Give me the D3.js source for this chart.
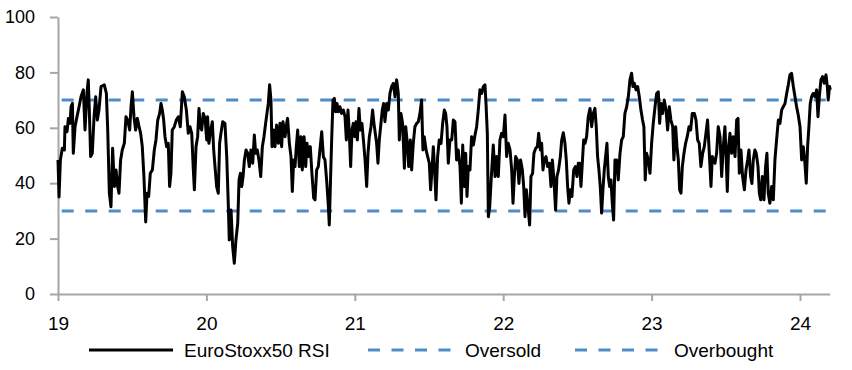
<!DOCTYPE html>
<html><head><meta charset="utf-8">
<script src="https://cdn.jsdelivr.net/npm/d3@7"></script>
<style>
html,body{margin:0;padding:0;background:#fff;}
svg{display:block;font-family:"Liberation Sans",Arial,sans-serif;}
</style></head>
<body>
<svg id="chart" width="852" height="370"></svg>
<script>
// ---- data (decimal year, 19 = 2019) ----
const dates = [
19.000,19.007,19.016,19.029,19.043,19.047,19.061,19.070,19.081,19.088,19.097,19.103,19.115,19.128,19.142,19.155,19.171,19.182,19.195,19.204,
19.211,19.220,19.231,19.243,19.254,19.265,19.276,19.290,19.312,19.326,19.335,19.346,19.357,19.368,19.380,19.391,19.402,19.411,19.422,19.433,
19.447,19.458,19.469,19.483,19.492,19.501,19.512,19.523,19.535,19.546,19.557,19.568,19.579,19.591,19.600,19.611,19.622,19.636,19.649,19.660,
19.672,19.685,19.694,19.703,19.712,19.721,19.732,19.743,19.752,19.761,19.770,19.784,19.797,19.811,19.824,19.838,19.851,19.865,19.878,
19.889,19.901,19.912,19.919,19.930,19.941,19.950,19.959,19.968,19.979,19.991,20.002,20.008,20.017,20.029,20.040,20.049,20.058,20.069,20.080,
20.089,20.098,20.110,20.125,20.137,20.148,20.154,20.166,20.177,20.188,20.199,20.211,20.220,20.229,20.238,20.247,20.256,20.267,20.278,20.289,
20.300,20.312,20.323,20.332,20.343,20.354,20.366,20.377,20.388,20.399,20.408,20.417,20.426,20.435,20.442,20.453,20.462,20.473,20.485,20.496,
20.507,20.516,20.530,20.541,20.547,20.559,20.570,20.579,20.588,20.597,20.606,20.615,20.626,20.637,20.646,20.658,20.669,20.678,20.689,20.700,
20.711,20.723,20.732,20.743,20.754,
20.765,20.777,20.788,20.799,20.810,20.822,20.828,20.837,20.844,20.853,20.862,20.871,20.880,20.889,20.900,20.911,20.923,20.934,20.943,20.954,
20.963,20.972,20.981,20.990,20.999,21.008,21.017,21.028,21.037,21.048,21.060,21.069,21.080,21.089,21.098,21.109,21.120,21.129,21.138,21.147,
21.156,21.165,21.174,21.185,21.194,21.203,21.215,21.226,21.237,21.248,21.260,21.271,21.282,21.293,21.300,21.311,21.322,21.334,21.343,21.354,
21.363,21.374,21.383,21.394,21.405,21.417,21.428,21.439,21.450,21.459,21.468,21.480,21.491,21.502,21.511,21.520,21.529,21.538,21.547,21.558,
21.569,21.581,21.592,21.603,21.612,21.621,21.630,
21.641,21.653,21.664,21.675,21.686,21.697,21.709,21.718,21.727,21.738,21.747,21.756,21.765,21.776,21.787,21.799,21.810,21.821,21.832,21.843,
21.855,21.866,21.877,21.884,21.893,21.900,21.909,21.920,21.933,21.945,21.956,21.967,21.978,21.989,22.001,22.012,22.023,22.034,22.046,22.057,
22.066,22.075,22.084,22.095,22.106,22.117,22.129,22.138,22.147,22.156,22.167,22.178,22.187,22.198,22.207,22.219,22.230,22.239,22.250,22.259,
22.268,22.277,22.288,22.299,22.311,22.322,22.331,22.342,22.353,22.362,22.373,22.385,22.394,22.405,22.416,22.425,22.434,22.443,22.452,22.463,
22.475,22.486,22.497,22.506,
22.515,22.524,22.533,22.542,22.551,22.562,22.573,22.585,22.596,22.607,22.618,22.627,22.636,22.645,22.654,22.663,22.672,22.681,22.690,22.699,
22.708,22.717,22.726,22.735,22.744,22.753,22.764,22.775,22.787,22.798,22.809,22.820,22.832,22.843,22.854,22.865,22.874,22.883,22.895,22.906,
22.917,22.928,22.939,22.948,22.957,22.966,22.978,22.989,23.000,23.011,23.023,23.034,23.045,23.054,23.063,23.074,23.085,23.097,23.108,23.119,
23.130,23.142,23.150,23.162,23.171,23.180,23.189,23.198,23.207,23.218,23.229,23.240,23.252,23.263,23.274,23.288,23.299,23.310,23.321,23.332,
23.344,23.355,23.366,23.377,
23.391,23.400,23.409,23.418,23.427,23.438,23.449,23.461,23.472,23.483,23.494,23.503,23.510,23.519,23.528,23.539,23.550,23.562,23.573,23.582,
23.591,23.602,23.613,23.625,23.636,23.647,23.656,23.667,23.676,23.685,23.696,23.705,23.717,23.726,23.735,23.746,23.757,23.768,23.777,23.786,
23.797,23.809,23.820,23.831,23.842,23.854,23.865,23.876,23.887,23.899,23.910,23.921,23.932,23.943,23.955,23.966,23.977,23.988,24.000,24.011,
24.022,24.033,24.042,24.051,24.060,24.069,24.078,24.089,24.101,24.112,24.121,24.130,24.141,24.152,24.163,24.175,24.184,24.190,24.199,24.204
];
const rsi = [
48.4,35,48.4,52.6,52,60.4,58.6,63.4,61.6,67.6,68.8,50.8,60.4,64,67.6,71.2,73.7,59.2,72.4,77.3,
66.4,49.6,50.8,64,71.2,62.8,66.4,74.9,75.5,72.4,59.2,36.4,31.5,52.6,38.8,44.8,38.8,36.4,48.4,52,
54.4,64,62.8,59.2,67.6,73,64,59.2,63.4,60.4,58,53.2,42.4,26,36.4,35.2,43.6,44.8,52,55.6,
62.8,65.2,68.8,66.4,62.8,56.8,53.2,54.4,38.8,43.6,59.2,60.4,62.8,64,60.4,73,71.2,66.4,58,
60.4,58,44.8,37.6,53.2,56.8,67,60.4,59.2,65.2,63.4,55.6,64,54.4,59.2,62.2,52,46,38.8,36.4,
54.4,58,62.2,61.6,49.6,31.5,19.5,30.3,17.1,11.1,19.5,25.5,41.2,43.6,38.8,42.4,48.4,52,50.8,46,
52,47.2,57.4,50.8,52,48.4,42.4,53.2,56.8,61.6,65.2,68.8,75.5,70,53.2,59.2,53.2,61,54.4,61.6,
53.2,62.2,56.8,61.6,63.4,54.4,49.6,37,48.4,46,53.2,59.2,46,56.8,44.8,56.8,46,54.4,49.6,53.2,
43.6,34.6,34,44.8,46,
52,58.6,49.6,48.4,41.2,31.5,24.9,42.4,55.6,70,70.6,65.8,68.8,65.8,67.6,65.2,66.4,64,55.6,66.4,
58,46,59.2,61.6,56.8,62.2,55.6,67,59.2,61.6,54.4,48.4,38.8,50.8,56.8,60.4,66.4,61.6,58,54.4,
47.2,55.6,60.4,66.4,68.8,62.2,68.8,66.4,72.4,74.9,76.1,71.2,77.3,72.4,55.6,65.2,61.6,45.4,60.4,54.4,
46,55.6,44.8,54.4,60.4,61.6,62.2,65.2,70,52,56.8,52,49.6,47.2,37.6,44.8,53.2,44.8,34,49.6,
55.6,54.4,61.6,66.4,65.2,60.4,47.2,
55.6,55.6,62.8,62.2,48.4,52,46,32.8,53.8,38.8,50.8,35.2,46,44.8,56.8,53.8,57.4,60.4,66.4,73.7,
72.4,74.9,75.5,68.8,58,27.9,31.5,42.4,53.8,42.4,49.6,42.4,55.6,58,56.8,64.6,49.6,54.4,52,44.8,
32.8,42.4,49.6,48.4,39.9,48.4,44.8,38.8,27.9,37.6,31.5,24.9,42.4,43.6,50.8,52.6,53.2,58,52,54.4,
44.8,48.4,49.6,46,47.2,38.8,48.4,41.2,30.3,42.4,44.8,49.6,55.6,58.2,54.4,48.4,38.8,32.8,37.6,35.2,
44.8,46,42.4,47.2,
47.2,38.8,47.2,55.6,54.4,56.8,64,67,60.4,65.2,67,60.4,49.6,44.8,38.8,29.2,37.6,44.8,49.6,54.4,
42.4,38.8,41.2,32.8,26.7,48.4,48.4,41.2,50.8,55.6,56.8,65.2,67.6,71.2,77.3,79.7,74.9,76.1,73.7,74.9,
71.2,66.4,62.8,60.4,41.2,50.8,48.4,43.6,54.4,61.6,67.6,72.4,73,61.6,68.8,65.2,70,66.4,59.2,67.6,
62.8,60.4,48.4,60.4,53.2,48.4,37.6,36.4,46,50.8,54.4,56.8,60.4,59.2,65.2,65.2,62.8,55.6,54.4,46,
50.8,53.2,58,62.8,
48.4,38.8,49.6,48.4,47.2,50.8,60.4,56.8,42.4,53.2,60.4,48.4,37,53.2,58,50.8,56.8,49.6,62.8,63.4,
43.6,52,42.4,37.6,44.8,48.4,52,42.4,39.9,48.4,52,50.8,46,36.4,34,42.4,34,46,50.8,36.4,
32.8,38.8,34,48.4,55.6,62.8,61.6,66.4,67.6,68.8,72.4,75.5,79.1,79.7,74.9,71.2,67.6,64.6,60.4,48.4,
53.2,47.2,40,53.2,60.4,68.8,71.2,72.4,71.2,73.7,64,71.2,77.3,78.5,76.1,79.1,74.9,70,74.9,73.7
];
const oversoldLevel = 30;
const overboughtLevel = 70;
const xDomain = [19, 24.2];
const xTicks = [19, 20, 21, 22, 23, 24];
const yTicks = [0, 20, 40, 60, 80, 100];
const legendLabels = ["EuroStoxx50 RSI", "Oversold", "Overbought"];

// ---- drawing ----
const svg = d3.select("#chart");
const axisColor = "#a6a6a6";
const blue = "#4f8bc6";
const x = d3.scaleLinear().domain(xDomain).range([58, 829.7]);
const y = d3.scaleLinear().domain([0, 100]).range([294, 17]);

// axes
const gy = svg.append("g").attr("transform", "translate(58,0)")
  .call(d3.axisLeft(y).tickValues(yTicks).tickSize(8).tickPadding(15).tickSizeOuter(0));
const gx = svg.append("g").attr("transform", "translate(0,294)")
  .call(d3.axisBottom(x).tickValues(xTicks).tickFormat(d3.format("d")).tickSize(7).tickPadding(16).tickSizeOuter(0));
[gy, gx].forEach(g => {
  g.selectAll("path,line").attr("stroke", axisColor).attr("stroke-width", 2);
  g.selectAll("text").attr("fill", "#000").style("font-family", '"Liberation Sans", Arial, sans-serif');
});
gy.selectAll("text").style("font-size", "18px");
gx.selectAll("text").style("font-size", "19px");

// reference lines
const dash = "12,11.5";
[oversoldLevel, overboughtLevel].forEach(level => {
  svg.append("line")
    .attr("x1", x(xDomain[0])).attr("x2", x(xDomain[1]))
    .attr("y1", y(level)).attr("y2", y(level))
    .attr("stroke", blue).attr("stroke-width", 3)
    .attr("stroke-dasharray", dash).attr("stroke-dashoffset", 19.8);
});

// RSI line
const pts = d3.zip(dates, rsi);
svg.append("path").datum(pts)
  .attr("fill", "none").attr("stroke", "#000").attr("stroke-width", 3)
  .attr("stroke-linejoin", "round")
  .attr("d", d3.line().x(d => x(d[0])).y(d => y(d[1])));

// legend
const legendY = 350;
const items = [
  {label: legendLabels[0], x0: 89, color: "#000", dash: null, tx: 184},
  {label: legendLabels[1], x0: 368, color: blue, dash: dash, tx: 465},
  {label: legendLabels[2], x0: 575, color: blue, dash: dash, tx: 674}
];
items.forEach(it => {
  const ln = svg.append("line")
    .attr("x1", it.x0).attr("x2", it.x0 + 84)
    .attr("y1", legendY).attr("y2", legendY)
    .attr("stroke", it.color).attr("stroke-width", 3);
  if (it.dash) ln.attr("stroke-dasharray", it.dash);
  svg.append("text").attr("x", it.tx).attr("y", legendY + 7)
    .attr("font-size", 19).attr("fill", "#000").text(it.label);
});
</script>
</body></html>
